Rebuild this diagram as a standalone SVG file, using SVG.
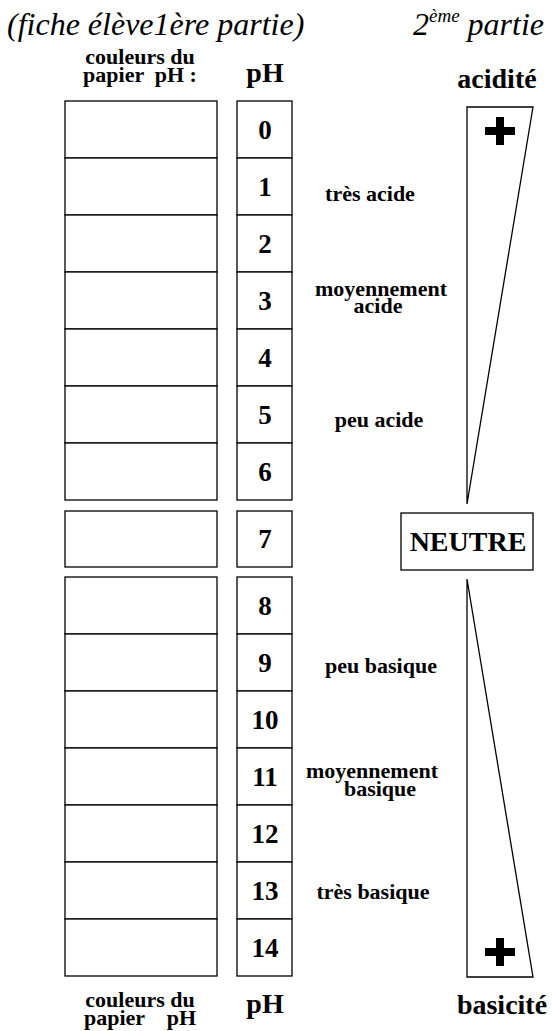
<svg xmlns="http://www.w3.org/2000/svg" width="552" height="1031" viewBox="0 0 552 1031">
  <style>
    .cell { fill: #fff; stroke: #000; stroke-width: 1.3; }
    .num { font-family: "Liberation Serif", "Times New Roman", serif; font-weight: bold; font-size: 27px; text-anchor: middle; fill: #000; }
    .lbl { font-family: "Liberation Serif", "Times New Roman", serif; font-weight: bold; font-size: 22px; text-anchor: middle; fill: #000; }
    .big { font-family: "Liberation Serif", "Times New Roman", serif; font-weight: bold; font-size: 28px; text-anchor: middle; fill: #000; }
    .ital { font-family: "Liberation Serif", "Times New Roman", serif; font-style: italic; font-size: 32px; fill: #000; }
    .wedge { fill: #fff; stroke: #000; stroke-width: 1.3; stroke-linejoin: miter; }
  </style>

  <!-- titles -->
  <g id="titles">
    <text class="ital" x="7" y="35">(fiche élève1ère partie)</text>
    <text class="ital" x="413" y="35">2<tspan font-size="19" dy="-13">ème</tspan><tspan dy="13"> partie</tspan></text>
  </g>

  <!-- column headings -->
  <g id="headings">
    <text class="lbl" xml:space="preserve"><tspan x="140" y="64">couleurs du</tspan><tspan x="140" y="82">papier  pH :</tspan></text>
    <text class="big" x="265" y="82">pH</text>
    <text class="big" x="497" y="88">acidité</text>
    <text class="lbl" xml:space="preserve"><tspan x="140" y="1007">couleurs du</tspan><tspan x="140" y="1025">papier    pH</tspan></text>
    <text class="big" x="265" y="1013">pH</text>
    <text class="big" x="502" y="1014">basicité</text>
  </g>

  <!-- colour cells -->
  <g id="colour-cells">
    <rect class="cell" x="65" y="101" width="152" height="57"/>
    <rect class="cell" x="65" y="158" width="152" height="57"/>
    <rect class="cell" x="65" y="215" width="152" height="57"/>
    <rect class="cell" x="65" y="272" width="152" height="57"/>
    <rect class="cell" x="65" y="329" width="152" height="57"/>
    <rect class="cell" x="65" y="386" width="152" height="57"/>
    <rect class="cell" x="65" y="443" width="152" height="57"/>
    <rect class="cell" x="65" y="511" width="152" height="56"/>
    <rect class="cell" x="65" y="577" width="152" height="57"/>
    <rect class="cell" x="65" y="634" width="152" height="57"/>
    <rect class="cell" x="65" y="691" width="152" height="57"/>
    <rect class="cell" x="65" y="748" width="152" height="57"/>
    <rect class="cell" x="65" y="805" width="152" height="57"/>
    <rect class="cell" x="65" y="862" width="152" height="57"/>
    <rect class="cell" x="65" y="919" width="152" height="57"/>
  </g>

  <!-- pH scale cells -->
  <g id="ph-cells">
    <rect class="cell" x="237" y="101" width="55" height="57"/>
    <rect class="cell" x="237" y="158" width="55" height="57"/>
    <rect class="cell" x="237" y="215" width="55" height="57"/>
    <rect class="cell" x="237" y="272" width="55" height="57"/>
    <rect class="cell" x="237" y="329" width="55" height="57"/>
    <rect class="cell" x="237" y="386" width="55" height="57"/>
    <rect class="cell" x="237" y="443" width="55" height="57"/>
    <rect class="cell" x="237" y="511" width="55" height="56"/>
    <rect class="cell" x="237" y="577" width="55" height="57"/>
    <rect class="cell" x="237" y="634" width="55" height="57"/>
    <rect class="cell" x="237" y="691" width="55" height="57"/>
    <rect class="cell" x="237" y="748" width="55" height="57"/>
    <rect class="cell" x="237" y="805" width="55" height="57"/>
    <rect class="cell" x="237" y="862" width="55" height="57"/>
    <rect class="cell" x="237" y="919" width="55" height="57"/>
  </g>

  <g id="ph-values">
    <text class="num" x="265" y="139">0</text>
    <text class="num" x="265" y="196">1</text>
    <text class="num" x="265" y="253">2</text>
    <text class="num" x="265" y="310">3</text>
    <text class="num" x="265" y="367">4</text>
    <text class="num" x="265" y="424">5</text>
    <text class="num" x="265" y="481">6</text>
    <text class="num" x="265" y="548">7</text>
    <text class="num" x="265" y="615">8</text>
    <text class="num" x="265" y="672">9</text>
    <text class="num" x="265" y="729">10</text>
    <text class="num" x="265" y="786">11</text>
    <text class="num" x="265" y="843">12</text>
    <text class="num" x="265" y="900">13</text>
    <text class="num" x="265" y="957">14</text>
  </g>

  <!-- strength labels -->
  <g id="strength-labels">
    <text class="lbl" x="370" y="201">très acide</text>
    <text class="lbl"><tspan x="381" y="296">moyennement</tspan><tspan x="378" y="313">acide</tspan></text>
    <text class="lbl" x="379" y="427">peu acide</text>
    <text class="lbl" x="381" y="673">peu basique</text>
    <text class="lbl"><tspan x="372" y="778">moyennement</tspan><tspan x="380" y="796">basique</tspan></text>
    <text class="lbl" x="373" y="899">très basique</text>
  </g>

  <!-- acidity wedge -->
  <g id="acid-wedge">
    <polygon class="wedge" points="467,107 533,107 467,504"/>
    <rect x="485" y="127" width="30" height="8" fill="#000"/>
    <rect x="496" y="117" width="8" height="28" fill="#000"/>
  </g>

  <!-- neutral box -->
  <g id="neutral">
    <rect class="cell" x="401" y="513" width="132" height="57"/>
    <text class="big" x="468" y="551">NEUTRE</text>
  </g>

  <!-- basicity wedge -->
  <g id="base-wedge">
    <polygon class="wedge" points="467,579 533,977 467,977"/>
    <rect x="485" y="948" width="30" height="8" fill="#000"/>
    <rect x="496" y="938" width="8" height="28" fill="#000"/>
  </g>
</svg>
